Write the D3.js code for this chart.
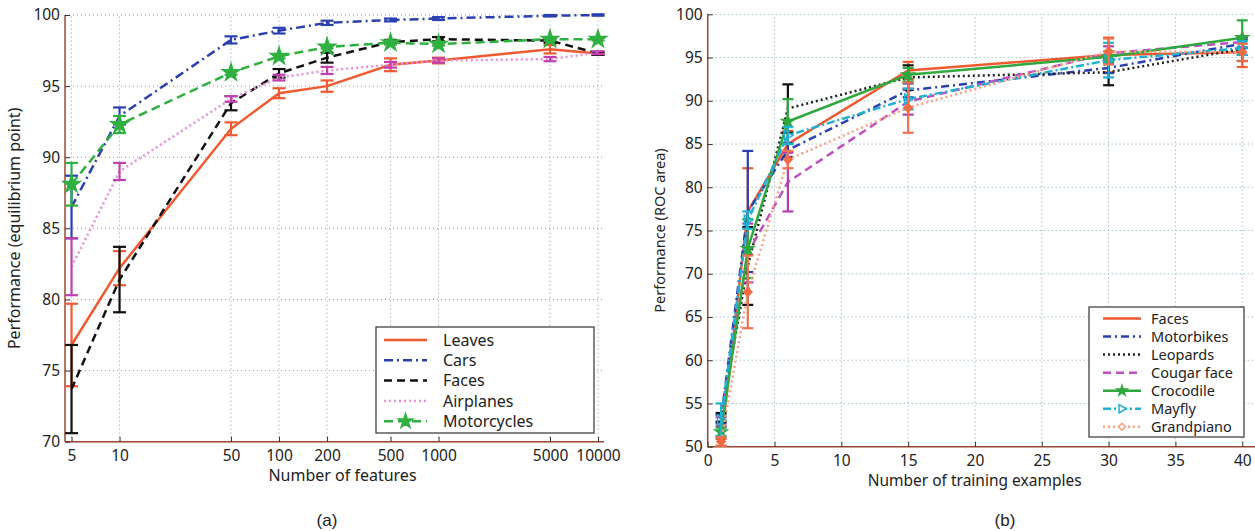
<!DOCTYPE html>
<html>
<head>
<meta charset="utf-8">
<script src="https://cdn.jsdelivr.net/npm/d3@7"></script>
<style>
  body { margin: 0; background: #fff; }
  text { font-family: "Noto Sans", "DejaVu Sans", sans-serif; fill: #222; }
</style>
</head>
<body>
<svg id="chart" width="1255" height="531"></svg>
<script>
// ---- panel (a): number of features ----
const featureCounts = [5, 10, 50, 100, 200, 500, 1000, 5000, 10000];
const leavesMean      = [76.8, 82.2, 92.0, 94.5, 95.0, 96.5, 96.8, 97.6, 97.3];
const leavesErr       = [2.9, 1.2, 0.45, 0.35, 0.4, 0.45, 0.2, 0.3, 0.1];
const carsMean        = [86.5, 92.9, 98.25, 98.9, 99.45, 99.65, 99.75, 99.95, 100.0];
const carsErr         = [2.2, 0.6, 0.25, 0.2, 0.15, 0.1, 0.1, 0.05, 0.05];
const facesAMean      = [73.7, 81.4, 93.8, 95.9, 97.0, 98.1, 98.3, 98.2, 97.3];
const facesAErr       = [3.1, 2.3, 0.5, 0.3, 0.35, 0.15, 0.15, 0.15, 0.1];
const airplanesMean   = [82.3, 89.0, 94.1, 95.6, 96.1, 96.5, 96.8, 96.9, 97.35];
const airplanesErr    = [2.0, 0.6, 0.2, 0.2, 0.25, 0.2, 0.15, 0.15, 0.1];
const motorcyclesMean = [88.1, 92.3, 95.95, 97.1, 97.75, 98.05, 97.95, 98.3, 98.3];
const motorcyclesErr  = [1.5, 0.6, 0.15, 0.15, 0.1, 0.1, 0.1, 0.1, 0.1];
const yTicksA = [70, 75, 80, 85, 90, 95, 100];

// ---- panel (b): number of training examples ----
const trainingExamples = [1, 3, 6, 15, 30, 40];
const facesBMean     = [50.5, 77.2, 85.0, 93.5, 95.3, 95.6];
const facesBErr      = [0.4, 5.0, 1.5, 1.0, 2.0, 1.7];
const motorbikesMean = [53.2, 77.2, 84.3, 91.2, 93.8, 96.6];
const motorbikesErr  = [0.5, 7.0, 0.8, 0.8, 0.6, 0.5];
const leopardsMean   = [53.4, 70.9, 89.1, 92.7, 93.3, 96.0];
const leopardsErr    = [0.5, 4.5, 2.8, 1.4, 1.5, 1.4];
const cougarMean     = [52.9, 72.4, 80.6, 89.9, 95.5, 96.8];
const cougarErr      = [0.5, 3.4, 3.4, 1.5, 0.8, 0.6];
const crocodileMean  = [51.7, 72.9, 87.6, 93.0, 95.1, 97.3];
const crocodileErr   = [0.5, 3.4, 2.6, 0.8, 0.6, 2.0];
const mayflyMean     = [53.1, 76.2, 86.0, 90.2, 94.7, 96.1];
const mayflyErr      = [1.9, 1.0, 1.0, 1.2, 2.0, 0.8];
const grandpianoMean = [50.6, 67.9, 83.2, 89.2, 95.7, 95.6];
const grandpianoErr  = [0.5, 4.2, 1.0, 2.9, 1.5, 1.0];
const xTicksB = [0, 5, 10, 15, 20, 25, 30, 35, 40];
const yTicksB = [50, 55, 60, 65, 70, 75, 80, 85, 90, 95, 100];

const svg = d3.select("#chart");
const axisColor = "#9a4a30";
const gridColor = "#7fa5b5";

const seriesA = [
  { name: "Leaves", mean: leavesMean, err: leavesErr, color: "#f05a30", bar: "#f05a30", dash: null },
  { name: "Cars", mean: carsMean, err: carsErr, color: "#2a40b0", bar: "#2a40b0", dash: "9,4,2,4" },
  { name: "Faces", mean: facesAMean, err: facesAErr, color: "#111", bar: "#111", dash: "8,5" },
  { name: "Airplanes", mean: airplanesMean, err: airplanesErr, color: "#e890dc", bar: "#c040b0", dash: "2,3" },
  { name: "Motorcycles", mean: motorcyclesMean, err: motorcyclesErr, color: "#30b040", bar: "#30b040", dash: "9,5", marker: "star" }
];

const seriesB = [
  { name: "Faces", mean: facesBMean, err: facesBErr, color: "#f05a30", bar: "#f05a30", dash: null },
  { name: "Motorbikes", mean: motorbikesMean, err: motorbikesErr, color: "#2a40b0", bar: "#2a40b0", dash: "8,4,2,4" },
  { name: "Leopards", mean: leopardsMean, err: leopardsErr, color: "#222", bar: "#111", dash: "2,3" },
  { name: "Cougar face", mean: cougarMean, err: cougarErr, color: "#c050c0", bar: "#b040b0", dash: "8,5" },
  { name: "Crocodile", mean: crocodileMean, err: crocodileErr, color: "#30a840", bar: "#30a840", dash: null, marker: "star" },
  { name: "Mayfly", mean: mayflyMean, err: mayflyErr, color: "#20b0d0", bar: "#20b0d0", dash: "8,3,2,3", marker: "triangle" },
  { name: "Grandpiano", mean: grandpianoMean, err: grandpianoErr, color: "#f8a080", bar: "#f07050", dash: "2,3", marker: "diamond" }
];

function markerPath(type, size) {
  if (type === "star") return d3.symbol(d3.symbolStar, size)();
  if (type === "diamond") return d3.symbol(d3.symbolDiamond2, size)();
  // right-pointing triangle
  const s = Math.sqrt(size) * 0.75;
  return `M${-s * 0.7},${-s}L${s},0L${-s * 0.7},${s}Z`;
}

function drawPanel(p) {
  const g = svg.append("g");
  const x = p.x, y = p.y;
  const [x0, x1] = x.range(), [y0, y1] = y.range();

  // grid
  g.selectAll(".gy").data(p.yTicks).enter().append("line")
    .attr("x1", x0).attr("x2", x1).attr("y1", d => y(d)).attr("y2", d => y(d))
    .attr("stroke", gridColor).attr("stroke-width", 1).attr("stroke-dasharray", "1,3");
  g.selectAll(".gx").data(p.xTicks).enter().append("line")
    .attr("x1", d => x(d)).attr("x2", d => x(d)).attr("y1", y0).attr("y2", y1)
    .attr("stroke", gridColor).attr("stroke-width", 1).attr("stroke-dasharray", "1,3");

  // axes
  const ax = g.append("g").attr("transform", `translate(0,${y0})`)
    .call(d3.axisBottom(x).tickValues(p.xTicks).tickFormat(d3.format("d")).tickSize(-5).tickPadding(8));
  const ay = g.append("g").attr("transform", `translate(${x0},0)`)
    .call(d3.axisLeft(y).tickValues(p.yTicks).tickSize(-5).tickPadding(5));
  [ax, ay].forEach(a => {
    a.select(".domain").attr("stroke", axisColor).attr("stroke-width", 1.5);
    a.selectAll(".tick line").attr("stroke", "#333");
    a.selectAll("text").style("font-size", "15.5px").attr("fill", "#222");
  });
  ax.select(".domain").attr("d", `M${x0},0H${x1}`);
  ay.select(".domain").attr("d", `M0,${y0}V${y1}`);

  // series
  const line = d3.line().x(d => x(d[0])).y(d => y(d[1]));
  p.series.forEach(s => {
    const pts = p.xs.map((v, i) => [v, s.mean[i], s.err[i]]);
    const sg = g.append("g");
    sg.append("path").datum(pts).attr("d", line).attr("fill", "none")
      .attr("stroke", s.color).attr("stroke-width", 2.5)
      .attr("stroke-dasharray", s.dash);
    const eb = sg.selectAll(".eb").data(pts).enter().append("g").attr("stroke", s.bar).attr("stroke-width", 2.2);
    eb.append("line").attr("x1", d => x(d[0])).attr("x2", d => x(d[0]))
      .attr("y1", d => y(d[1] - d[2])).attr("y2", d => y(d[1] + d[2]));
    eb.append("line").attr("x1", d => x(d[0]) - p.cap).attr("x2", d => x(d[0]) + p.cap)
      .attr("y1", d => y(d[1] - d[2])).attr("y2", d => y(d[1] - d[2]));
    eb.append("line").attr("x1", d => x(d[0]) - p.cap).attr("x2", d => x(d[0]) + p.cap)
      .attr("y1", d => y(d[1] + d[2])).attr("y2", d => y(d[1] + d[2]));
    if (s.marker) {
      sg.selectAll(".mk").data(pts).enter().append("path")
        .attr("d", markerPath(s.marker, p.markerSize))
        .attr("transform", d => `translate(${x(d[0])},${y(d[1])})`)
        .attr("fill", s.marker === "triangle" ? "none" : (s.marker === "diamond" ? "#f06a45" : s.color))
        .attr("stroke", s.marker === "diamond" ? "#f06a45" : s.color).attr("stroke-width", 1.5);
    }
  });

  // legend
  const L = p.legend;
  const lg = g.append("g");
  lg.append("rect").attr("x", L.x).attr("y", L.y).attr("width", L.w).attr("height", L.h)
    .attr("fill", "#fff").attr("stroke", "#333").attr("stroke-width", 1.2);
  p.series.forEach((s, i) => {
    const yy = L.y + L.first + i * L.step;
    lg.append("line").attr("x1", L.x + L.s0).attr("x2", L.x + L.s1).attr("y1", yy).attr("y2", yy)
      .attr("stroke", s.color).attr("stroke-width", 2.5).attr("stroke-dasharray", s.dash);
    if (s.marker) {
      lg.append("path").attr("d", markerPath(s.marker, p.markerSize * 0.7))
        .attr("transform", `translate(${L.x + (L.s0 + L.s1) / 2},${yy})`)
        .attr("fill", s.marker === "star" ? s.color : "#fff")
        .attr("stroke", s.color).attr("stroke-width", 1.5);
    }
    lg.append("text").attr("x", L.x + L.t).attr("y", yy).attr("dy", "0.35em")
      .style("font-size", L.font + "px").text(s.name);
  });

  // labels
  g.append("text").attr("x", (x0 + x1) / 2 + p.xLabelShift).attr("y", y0 + 39)
    .attr("text-anchor", "middle").style("font-size", p.labelFont + "px").text(p.xLabel);
  g.append("text").attr("transform", `translate(${p.yLabelX},${(y0 + y1) / 2}) rotate(-90)`)
    .attr("text-anchor", "middle").style("font-size", p.yLabelFont + "px").text(p.yLabel);
  g.append("text").attr("x", p.tag[0]).attr("y", p.tag[1]).attr("text-anchor", "middle")
    .style("font-family", "'Liberation Sans', Arial, sans-serif").style("font-size", "17px").text(p.tag[2]);
}

drawPanel({
  xs: featureCounts, series: seriesA,
  x: d3.scaleLog().domain([4.55, 10900]).range([65, 604]),
  y: d3.scaleLinear().domain([70, 100]).range([441.7, 15]),
  xTicks: featureCounts, yTicks: yTicksA,
  cap: 6.5, markerSize: 90,
  legend: { x: 376, y: 327, w: 218, h: 106, first: 13, step: 20.3, s0: 8, s1: 51, t: 67, font: 16 },
  xLabel: "Number of features", xLabelShift: 8, labelFont: 16,
  yLabel: "Performance (equilibrium point)", yLabelX: 20, yLabelFont: 16,
  tag: [327, 526, "(a)"]
});

drawPanel({
  xs: trainingExamples, series: seriesB,
  x: d3.scaleLinear().domain([0, 41]).range([707.7, 1255.6]),
  y: d3.scaleLinear().domain([50, 100]).range([446.7, 14.3]),
  xTicks: xTicksB, yTicks: yTicksB,
  cap: 5.5, markerSize: 45,
  legend: { x: 1089, y: 307, w: 155, h: 130, first: 11.5, step: 18.05, s0: 14, s1: 52, t: 62, font: 14.5 },
  xLabel: "Number of training examples", xLabelShift: -7, labelFont: 15.5,
  yLabel: "Performance (ROC area)", yLabelX: 665, yLabelFont: 14.5,
  tag: [1005, 526, "(b)"]
});
</script>
</body>
</html>
